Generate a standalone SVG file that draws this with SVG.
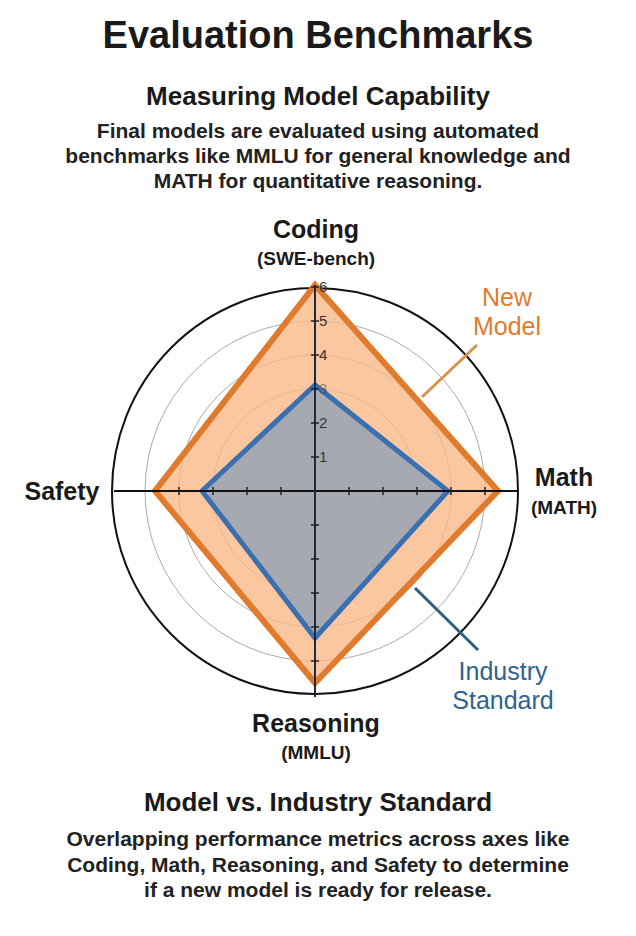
<svg xmlns="http://www.w3.org/2000/svg" width="636" height="936" viewBox="0 0 636 936">
<style>
text{font-family:"Liberation Sans",Arial,sans-serif;fill:#1a1a1a;text-anchor:middle}
.t{font-size:38px;font-weight:bold}
.h{font-size:26px;font-weight:bold}
.p{font-size:21px;font-weight:bold;fill:#222}
.ax{font-size:25px;font-weight:bold}
.sub{font-size:19px;font-weight:bold}
.cl{font-size:25px}
.tk{font-size:15px;text-anchor:start;fill:#333}
.ring{fill:none;stroke:#aaa;stroke-width:1}
.tick{stroke:#222;stroke-width:1.5}
</style>
<rect width="636" height="936" fill="#fff"/>
<g id="header">
<text class="t" x="318" y="48">Evaluation Benchmarks</text>
<text class="h" x="318" y="105">Measuring Model Capability</text>
<text class="p" x="318" y="138">Final models are evaluated using automated</text>
<text class="p" x="318" y="163">benchmarks like MMLU for general knowledge and</text>
<text class="p" x="318" y="188">MATH for quantitative reasoning.</text>
</g>
<g id="chart">
<circle cx="315" cy="491" r="203" fill="none" stroke="#111" stroke-width="2"/>
<circle class="ring" cx="315" cy="491" r="34"/>
<circle class="ring" cx="315" cy="491" r="68"/>
<circle class="ring" cx="315" cy="491" r="102"/>
<circle class="ring" cx="315" cy="491" r="136"/>
<circle class="ring" cx="315" cy="491" r="170"/>
<g id="newmodel">
<polygon points="315,285 498,491 315,683 155,491" fill="#f9b98a" fill-opacity="0.8" stroke="#e07b2e" stroke-width="6"/>
</g>
<g id="industry">
<polygon points="315,385 448,491 315,638 202,491" fill="#8a9fb8" fill-opacity="0.75" stroke="#3a6fb0" stroke-width="5"/>
</g>
<line x1="114" y1="491" x2="517" y2="491" stroke="#111" stroke-width="2"/>
<line x1="315" y1="285" x2="315" y2="697" stroke="#1a2a40" stroke-width="2"/>
<g class="tick">
<line x1="311" y1="457" x2="319" y2="457"/><line x1="311" y1="423" x2="319" y2="423"/><line x1="311" y1="389" x2="319" y2="389"/><line x1="311" y1="355" x2="319" y2="355"/><line x1="311" y1="321" x2="319" y2="321"/><line x1="311" y1="287" x2="319" y2="287"/>
<line x1="311" y1="525" x2="319" y2="525"/><line x1="311" y1="559" x2="319" y2="559"/><line x1="311" y1="593" x2="319" y2="593"/><line x1="311" y1="627" x2="319" y2="627"/><line x1="311" y1="661" x2="319" y2="661"/>
<line x1="349" y1="487" x2="349" y2="495"/><line x1="383" y1="487" x2="383" y2="495"/><line x1="417" y1="487" x2="417" y2="495"/><line x1="451" y1="487" x2="451" y2="495"/><line x1="485" y1="487" x2="485" y2="495"/>
<line x1="281" y1="487" x2="281" y2="495"/><line x1="247" y1="487" x2="247" y2="495"/><line x1="213" y1="487" x2="213" y2="495"/><line x1="179" y1="487" x2="179" y2="495"/>
</g>
<text class="tk" x="319" y="462">1</text>
<text class="tk" x="319" y="428">2</text>
<text class="tk" x="319" y="394" fill-opacity="0.5">3</text>
<text class="tk" x="319" y="360">4</text>
<text class="tk" x="319" y="326">5</text>
<text class="tk" x="319" y="292">6</text>
</g>
<g id="connectors">
<line x1="422" y1="397" x2="477" y2="345" stroke="#d9924a" stroke-width="3"/>
<line x1="415" y1="588" x2="478" y2="650" stroke="#2f5f80" stroke-width="3"/>
</g>
<g id="labels">
<text class="ax" x="316" y="238">Coding</text>
<text class="sub" x="316" y="265">(SWE-bench)</text>
<text class="cl" x="507" y="306" style="fill:#e07b2e">New</text>
<text class="cl" x="507" y="335" style="fill:#e07b2e">Model</text>
<text class="ax" x="62" y="500">Safety</text>
<text class="ax" x="564" y="486">Math</text>
<text class="sub" x="564" y="514">(MATH)</text>
<text class="cl" x="503" y="680" style="fill:#2f6390">Industry</text>
<text class="cl" x="503" y="709" style="fill:#2f6390">Standard</text>
<text class="ax" x="316" y="732">Reasoning</text>
<text class="sub" x="316" y="759">(MMLU)</text>
</g>
<g id="footer">
<text class="h" x="318" y="811">Model vs. Industry Standard</text>
<text class="p" x="318" y="846">Overlapping performance metrics across axes like</text>
<text class="p" x="318" y="872">Coding, Math, Reasoning, and Safety to determine</text>
<text class="p" x="318" y="897">if a new model is ready for release.</text>
</g>
</svg>
